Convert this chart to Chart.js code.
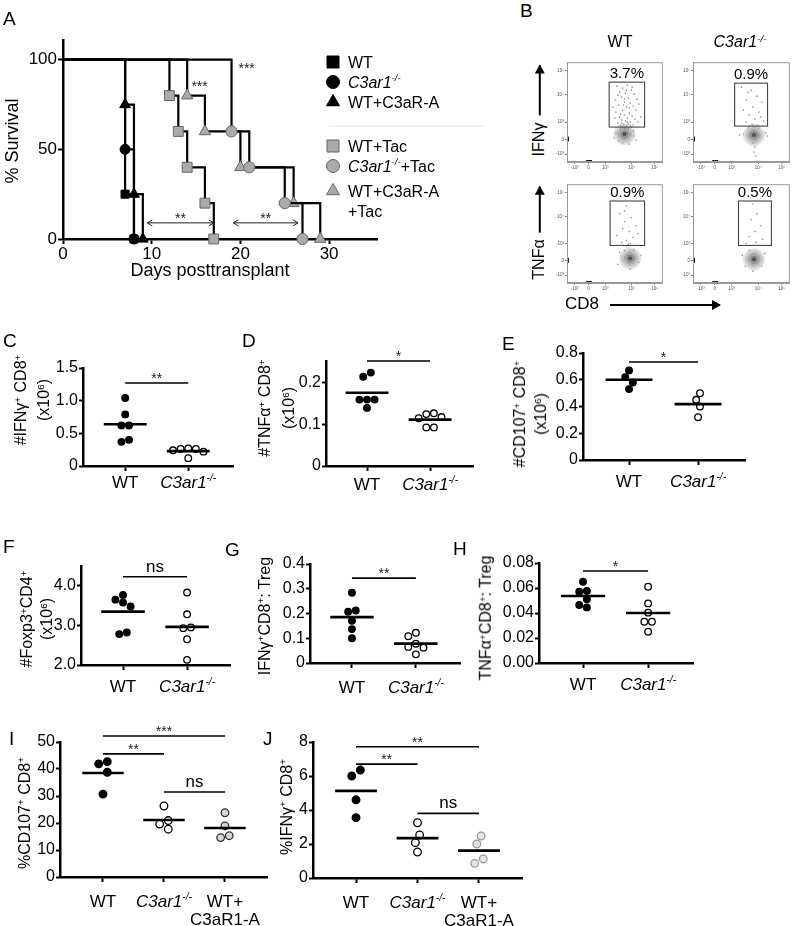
<!DOCTYPE html>
<html>
<head>
<meta charset="utf-8">
<script src="https://cdn.jsdelivr.net/npm/chart.js@4.4.0/dist/chart.umd.min.js"></script>
<style>
body { margin: 0; background: #fff; font-family: "Liberation Sans", Arial, sans-serif; }
#fig { position: relative; width: 800px; height: 926px; overflow: hidden; }
canvas { position: absolute; }
.t { position: absolute; white-space: nowrap; line-height: 1.15; color: #000; }
.r { transform: translate(-50%, -50%) rotate(-90deg); text-align: center; }
sup { font-size: 0.62em; line-height: 0; vertical-align: 0.55em; }
.arr { display: inline-block; position: relative; height: 1.6px; background: #000; vertical-align: middle; margin-left: 7px; }
.arr::after { content: ''; position: absolute; right: -1px; top: -4.2px; border-left: 9px solid #000; border-top: 5px solid transparent; border-bottom: 5px solid transparent; }
</style>
</head>
<body>
<div id="fig"></div>
<script>
/* ---- A: survival ---- */
const survLabels = ['WT', 'C3ar1-/-', 'WT+C3aR-A', 'WT+Tac', 'C3ar1-/-+Tac', 'WT+C3aR-A\n+Tac'];
const wtDays = [0, 7, 8];
const wtSurv = [100, 25, 0];
const koDays = [0, 7, 8];
const koSurv = [100, 50, 0];
const antDays = [0, 7, 8, 9];
const antSurv = [100, 75, 25, 0];
const wtTacDays = [0, 12, 13, 14, 16, 17];
const wtTacSurv = [100, 80, 60, 40, 20, 0];
const koTacDays = [0, 19, 21, 25, 27];
const koTacSurv = [100, 60, 40, 20, 0];
const antTacDays = [0, 14, 16, 20, 26, 29];
const antTacSurv = [100, 80, 60, 40, 20, 0];
const survXTicks = [0, 10, 20, 30];
const survYTicks = [0, 50, 100];
const survStars = [{x: 20.7, y: 92.6, t: '***'}, {x: 15.4, y: 82.5, t: '***'}];
const survArrows = [{a: 9.5, b: 17, y: 9, t: '**'}, {a: 19.2, b: 26.5, y: 9, t: '**'}];

/* ---- B: flow plots (display units 0-100) ---- */
const flowTicks = [8, 22.5, 40, 67.5, 91.5];
const flowTickLabels = ['-10³', '0', '10³', '10⁴', '10⁵'];
const gateWtIfn = [44, 35, 81, 80];
const gateKoIfn = [43, 36, 77, 79];
const gateWtTnf = [45, 38, 81, 83];
const gateKoTnf = [47, 38, 81, 83];
const pctWtIfn = '3.7%';
const pctKoIfn = '0.9%';
const pctWtTnf = '0.9%';
const pctKoTnf = '0.5%';
const coreWtIfn = [60, 28];
const coreKoIfn = [63, 27];
const coreWtTnf = [66, 25];
const coreKoTnf = [63, 24];
const edgeEvents = [[1, 21.5], [1, 23], [1, 24.5], [21, 1], [23, 1], [25, 1]];
const eventsWtIfn = [[52,76],[58,74],[63,77],[67,72],[55,70],[61,69],[70,68],[57,65],[64,64],[73,63],[50,62],[60,60],[66,59],[54,57],[69,56],[62,55],[58,52],[72,52],[51,50],[65,49],[60,47],[68,46],[55,45],[63,44],[71,43],[57,42],[61,41],[66,40],[53,39],[59,38],[64,38],[69,37],[56,36],[62,36],[67,35],[75,58],[48,55],[77,45],[53,67],[68,75],[62,72],[56,48],[74,40],[50,44],[59,57],[65,54],[60,63],[57,39],[63,40],[66,37],[60,34],[64,33],[56,33],[69,31],[51,29],[70,26],[49,24],[72,22],[58,19],[65,18],[54,21]];
const eventsKoIfn = [[50,75],[60,72],[66,66],[55,62],[71,60],[62,55],[52,52],[68,50],[58,47],[64,43],[73,41],[55,40],[61,38],[67,37],[57,70],[70,45],[52,28],[48,27],[75,29],[77,26],[64,15],[63,10],[65,6],[62,19],[57,34],[68,34]];
const eventsWtTnf = [[62,78],[55,70],[67,66],[60,62],[72,58],[58,55],[65,52],[52,48],[69,46],[62,43],[57,41],[66,40],[74,50],[60,73],[64,39],[55,31],[77,28],[53,19],[75,21],[66,14],[60,33],[70,33]];
const eventsKoTnf = [[62,80],[66,70],[60,64],[70,58],[64,52],[58,47],[72,44],[65,41],[55,40],[51,28],[74,30],[54,17],[71,17],[62,12],[58,33]];

/* ---- C-J: dot plots ---- */
const groups2 = ['WT', 'C3ar1-/-'];
const groups3 = ['WT', 'C3ar1-/-', 'WT+\nC3aR1-A'];
const cWT = [1.04, 0.79, 0.62, 0.62, 0.40, 0.37];
const cKO = [0.27, 0.26, 0.26, 0.24, 0.22, 0.12];
const dWT = [0.225, 0.215, 0.16, 0.16, 0.16, 0.14];
const dKO = [0.127, 0.125, 0.118, 0.115, 0.093, 0.093];
const eWT = [0.67, 0.62, 0.58, 0.53];
const eKO = [0.50, 0.45, 0.40, 0.32];
const fWT = [3.77, 3.65, 3.58, 3.48, 2.82, 2.78];
const fKO = [3.83, 3.28, 2.95, 2.93, 2.65, 2.13];
const gWT = [0.284, 0.212, 0.207, 0.171, 0.137, 0.10];
const gKO = [0.122, 0.108, 0.078, 0.065, 0.062, 0.035];
const hWT = [0.065, 0.0576, 0.057, 0.051, 0.0464, 0.0445];
const hKO = [0.061, 0.0477, 0.0403, 0.033, 0.033, 0.025];
const iWT = [42.7, 41.9, 38.8, 30.7];
const iKO = [26.3, 20.9, 19.6, 17.7];
const iAnt = [23.8, 18.9, 15.3, 14.6];
const jWT = [6.35, 6.0, 4.6, 3.55];
const jKO = [3.25, 2.53, 2.08, 1.53];
const jAnt = [2.47, 2.0, 1.12, 0.86];

const cTicks = [0, 0.5, 1.0, 1.5], cTickLabels = ['0', '0.5', '1.0', '1.5'];
const dTicks = [0, 0.1, 0.2], dTickLabels = ['0', '0.1', '0.2'];
const eTicks = [0, 0.2, 0.4, 0.6, 0.8], eTickLabels = ['0', '0.2', '0.4', '0.6', '0.8'];
const fTicks = [2, 3, 4], fTickLabels = ['2.0', '3.0', '4.0'];
const gTicks = [0, 0.1, 0.2, 0.3, 0.4], gTickLabels = ['0', '0.1', '0.2', '0.3', '0.4'];
const hTicks = [0, 0.02, 0.04, 0.06, 0.08], hTickLabels = ['0.00', '0.02', '0.04', '0.06', '0.08'];
const iTicks = [0, 10, 20, 30, 40, 50], iTickLabels = ['0', '10', '20', '30', '40', '50'];
const jTicks = [0, 2, 4, 6, 8], jTickLabels = ['0', '2', '4', '6', '8'];

const sigC = [{a: 1, b: 2, y: 1.27, t: '**'}];
const sigD = [{a: 1, b: 2, y: 0.253, t: '*'}];
const sigE = [{a: 1, b: 2, y: 0.733, t: '*'}];
const sigF = [{a: 1, b: 2, y: 4.23, t: 'ns'}];
const sigG = [{a: 1, b: 2, y: 0.343, t: '**'}];
const sigH = [{a: 1, b: 2, y: 0.0736, t: '*'}];
const sigI = [{a: 1, b: 3, y: 52.2, t: '***'}, {a: 1, b: 2, y: 45.6, t: '**'}, {a: 2, b: 3, y: 31.5, t: 'ns'}];
const sigJ = [{a: 1, b: 3, y: 7.72, t: '**'}, {a: 1, b: 2, y: 6.7, t: '**'}, {a: 2, b: 3, y: 3.8, t: 'ns'}];

/* ---- styles ---- */
const FONT = '"Liberation Sans", Arial, sans-serif';
Chart.defaults.font.family = FONT;
Chart.defaults.color = '#000';
const HALF = 0.34;
const survStyles = [
    {ps: 'rect', r: 5.7, fill: '#000', edge: '#000', lr: 8.5},
    {ps: 'circle', r: 5, fill: '#000', edge: '#000', lr: 6.5},
    {ps: 'triangle', r: 6.2, fill: '#000', edge: '#000', lr: 7.5},
    {ps: 'rect', r: 7, fill: '#aaa', edge: '#666', lr: 8.5},
    {ps: 'circle', r: 5.6, fill: '#aaa', edge: '#666', lr: 6.5},
    {ps: 'triangle', r: 6.6, fill: '#aaa', edge: '#666', lr: 7.5}
];
const contourLevels = [
    {r: 10.5, c: '#d0d0d0'}, {r: 9, c: '#bdbdbd'}, {r: 7.5, c: '#a6a6a6'}, {r: 6, c: '#909090'},
    {r: 4.6, c: '#7a7a7a'}, {r: 3.2, c: '#606060'}, {r: 1.8, c: '#444'}
];

const fig = document.getElementById('fig');
const extras = {};
const mean = a => a.reduce((s, v) => s + v, 0) / a.length;

/* Texto HTML por linea base */
function txt(html, x, base, size, align) {
    const d = document.createElement('div');
    d.className = 't';
    d.innerHTML = html;
    d.style.fontSize = size + 'px';
    d.style.top = (base - 0.92 * size) + 'px';
    d.style.left = x + 'px';
    if (align === 'center') d.style.transform = 'translateX(-50%)';
    fig.appendChild(d);
}
function vtxt(html, cx, cy, size, lh) {
    const d = document.createElement('div');
    d.className = 't r';
    d.innerHTML = html;
    d.style.fontSize = size + 'px';
    d.style.lineHeight = (lh || size * 1.15) + 'px';
    d.style.left = cx + 'px';
    d.style.top = cy + 'px';
    fig.appendChild(d);
}

function parseLabel(s) {
    const m = s.match(/^(.*?)C3ar1-\/-(.*)$/);
    if (!m) return [{t: s}];
    return [{t: m[1]}, {t: 'C3ar1', i: 1}, {t: '-/-', i: 1, s: 1}, {t: m[2]}].filter(p => p.t);
}
function richText(ctx, segs, x, y, size, align) {
    const parts = segs.map(p => {
        const fs = p.s ? size * 0.6 : size;
        const font = (p.i ? 'italic ' : '') + fs + 'px ' + FONT;
        ctx.font = font;
        return {t: p.t, font, w: ctx.measureText(p.t).width, dy: p.s ? -size * 0.42 : 0};
    });
    const tw = parts.reduce((a, p) => a + p.w, 0);
    let cx = align === 'center' ? x - tw / 2 : x;
    ctx.textAlign = 'left';
    ctx.textBaseline = 'alphabetic';
    ctx.fillStyle = '#000';
    parts.forEach(p => { ctx.font = p.font; ctx.fillText(p.t, cx, y + p.dy); cx += p.w; });
}

/* Reparte puntos que se tocan (tipo enjambre) */
const swarm = {
    id: 'swarm',
    afterDatasetsUpdate(chart) {
        chart.data.datasets.forEach((ds, i) => {
            if (!ds.swarm) return;
            const s = ds.swarm, h = s / 2;
            const pts = chart.getDatasetMeta(i).data.slice().sort((a, b) => a.y - b.y);
            if (!pts.length) return;
            const base = pts[0].x;
            const placed = [];
            pts.forEach(p => {
                for (let k = 0; k < 30; k++) {
                    const off = k === 0 ? 0 : (k % 2 ? -1 : 1) * Math.ceil(k / 2) * h;
                    if (placed.every(q => Math.hypot(q.off - off, q.p.y - p.y) >= s * 0.95)) {
                        placed.push({p, off});
                        break;
                    }
                }
            });
            let cl = [];
            const flush = () => {
                const lo = Math.min(...cl.map(q => q.off)), hi = Math.max(...cl.map(q => q.off));
                cl.forEach(q => { q.p.x = base + q.off - (lo + hi) / 2; });
                cl = [];
            };
            placed.forEach(q => {
                if (cl.length && q.p.y - cl[cl.length - 1].p.y >= s) flush();
                cl.push(q);
            });
            flush();
        });
    }
};

/* Decoraciones: corchetes, etiquetas, leyenda, compuertas */
const deco = {
    id: 'deco',
    afterDraw(chart) {
        const ex = extras[chart.canvas.id];
        if (!ex) return;
        const ctx = chart.ctx, xs = chart.scales.x, ys = chart.scales.y, ca = chart.chartArea;
        ctx.save();
        if (ex.frame) {
            ctx.strokeStyle = '#999';
            ctx.lineWidth = 1;
            ctx.strokeRect(ca.left + 0.5, ca.top + 0.5, ca.width - 1, ca.height - 1);
        }
        if (ex.gate) {
            const g = ex.gate;
            const x1 = xs.getPixelForValue(g[0]), x2 = xs.getPixelForValue(g[2]);
            const y1 = ys.getPixelForValue(g[3]), y2 = ys.getPixelForValue(g[1]);
            ctx.strokeStyle = '#444';
            ctx.lineWidth = 1.1;
            ctx.strokeRect(x1, y1, x2 - x1, y2 - y1);
            ctx.fillStyle = '#000';
            ctx.font = '15px ' + FONT;
            ctx.textAlign = 'center';
            ctx.fillText(ex.pct, (x1 + x2) / 2, y1 - 4);
        }
        (ex.brackets || []).forEach(bk => {
            const x1 = xs.getPixelForValue(bk.a), x2 = xs.getPixelForValue(bk.b), y = ys.getPixelForValue(bk.y);
            ctx.strokeStyle = '#000';
            ctx.lineWidth = 1.6;
            ctx.beginPath(); ctx.moveTo(x1, y); ctx.lineTo(x2, y); ctx.stroke();
            const ns = bk.t === 'ns';
            ctx.font = (ns ? 17 : 14) + 'px ' + FONT;
            ctx.textAlign = 'center';
            ctx.fillStyle = ns ? '#000' : '#222';
            ctx.fillText(bk.t, (x1 + x2) / 2, y - (ns ? 5 : 0));
        });
        (ex.groups || []).forEach((g, i) => {
            const x = xs.getPixelForValue(i + 1);
            g.split('\n').forEach((line, k) => richText(ctx, parseLabel(line), x, ca.bottom + ex.gap + k * 18, 17, 'center'));
        });
        (ex.arrows || []).forEach(ar => {
            const x1 = xs.getPixelForValue(ar.a), x2 = xs.getPixelForValue(ar.b), y = ys.getPixelForValue(ar.y);
            ctx.strokeStyle = '#222';
            ctx.lineWidth = 1;
            ctx.beginPath();
            ctx.moveTo(x1, y); ctx.lineTo(x2, y);
            ctx.moveTo(x1 + 5, y - 3); ctx.lineTo(x1, y); ctx.lineTo(x1 + 5, y + 3);
            ctx.moveTo(x2 - 5, y - 3); ctx.lineTo(x2, y); ctx.lineTo(x2 - 5, y + 3);
            ctx.stroke();
            ctx.font = '14px ' + FONT;
            ctx.textAlign = 'center';
            ctx.fillStyle = '#222';
            ctx.fillText(ar.t, (x1 + x2) / 2, y);
        });
        (ex.stars || []).forEach(st => {
            ctx.font = '14px ' + FONT;
            ctx.textAlign = 'center';
            ctx.fillStyle = '#222';
            ctx.fillText(st.t, xs.getPixelForValue(st.x), ys.getPixelForValue(st.y));
        });
        if (ex.legend) {
            const L = ex.legend;
            ctx.translate(-ex.ox, -ex.oy);
            ctx.strokeStyle = '#e2e2e2';
            ctx.lineWidth = 1;
            ctx.beginPath(); ctx.moveTo(L.x - 4, L.sep); ctx.lineTo(L.x + 150, L.sep); ctx.stroke();
            chart.data.datasets.forEach((ds, k) => {
                const st = survStyles[k], y = L.rows[k];
                ctx.fillStyle = st.fill;
                ctx.strokeStyle = st.edge;
                ctx.lineWidth = 1;
                Chart.helpers.drawPoint(ctx, {pointStyle: st.ps, radius: st.lr, borderWidth: 1, rotation: 0}, L.x, y);
                ds.label.split('\n').forEach((line, j) => richText(ctx, parseLabel(line), L.tx, y + 6 + j * 20, 16, 'left'));
            });
        }
        ctx.restore();
    }
};

function makeChart(id, box, yw, xh, pad, config, ex) {
    const [l, t, r, b] = box;
    const cv = document.createElement('canvas');
    cv.id = id;
    const left = l - yw - pad[0], top = t - pad[1];
    const w = (r - l) + yw + pad[0] + pad[2], h = (b - t) + xh + pad[1] + pad[3];
    cv.width = w; cv.height = h;
    cv.style.left = left + 'px'; cv.style.top = top + 'px';
    cv.style.width = w + 'px'; cv.style.height = h + 'px';
    fig.appendChild(cv);
    extras[id] = Object.assign({ox: left, oy: top}, ex || {});
    const o = config.options;
    o.responsive = false;
    o.animation = false;
    o.events = [];
    o.layout = {padding: {left: pad[0], top: pad[1], right: pad[2], bottom: pad[3]}};
    o.scales.x.afterFit = s => { s.height = xh; };
    o.scales.y.afterFit = s => { s.width = yw; };
    o.plugins = {legend: {display: false}, tooltip: {enabled: false}};
    config.plugins = [swarm, deco];
    return new Chart(cv, config);
}

function axis(min, max, ticks, labels, size, tl, tickOn, pad) {
    return {
        type: 'linear', min, max,
        afterBuildTicks: s => { s.ticks = ticks.map(v => ({value: v})); },
        ticks: {display: tickOn, callback: (v, i) => labels[i], font: {size}, color: '#000', padding: pad, maxRotation: 0, autoSkip: false},
        grid: {drawOnChartArea: false, drawTicks: true, tickLength: tl, tickWidth: 2, tickColor: '#000'},
        border: {color: '#000', width: 2.5}
    };
}

/* ---- Grafica A ---- */
const survDays = [wtDays, koDays, antDays, wtTacDays, koTacDays, antTacDays];
const survPct = [wtSurv, koSurv, antSurv, wtTacSurv, koTacSurv, antTacSurv];
makeChart('chartA', [63, 40, 377, 239], 45, 30, [5, 15, 110, 5], {
    type: 'line',
    data: {
        datasets: survDays.map((days, k) => ({
            label: survLabels[k],
            data: days.map((d, j) => ({x: d, y: survPct[k][j]})),
            stepped: true,
            borderColor: '#000',
            borderWidth: 2.2,
            pointStyle: survStyles[k].ps,
            pointRadius: days.map((d, j) => j ? survStyles[k].r : 0),
            pointBackgroundColor: survStyles[k].fill,
            pointBorderColor: survStyles[k].edge,
            pointBorderWidth: 1,
            fill: false,
            clip: false
        }))
    },
    options: {
        scales: {
            x: axis(0, 35.4, survXTicks, survXTicks.map(String), 17, 5, true, 0),
            y: axis(0, 111, survYTicks, survYTicks.map(String), 17, 5, true, 1)
        }
    }
}, {arrows: survArrows, stars: survStars,
    legend: {x: 333, tx: 348, rows: [62, 82, 102, 146, 166, 191], sep: 126}});

/* ---- Graficas B ---- */
function flowPlot(id, box, events, core, gate, pct) {
    const flowAxis = () => {
        const a = axis(0, 100, flowTicks, flowTickLabels, 4.5, 2, true, 1);
        a.grid.tickWidth = 0.8; a.grid.tickColor = '#666';
        a.border = {color: '#999', width: 1};
        a.ticks.color = '#555';
        return a;
    };
    const datasets = [{
        data: edgeEvents.map(p => ({x: p[0], y: p[1]})),
        pointStyle: 'rect', pointRadius: 1.4, backgroundColor: '#111', borderWidth: 0, clip: false
    }];
    contourLevels.slice().reverse().forEach((lv, k) => {
        datasets.push({
            data: [{x: core[0], y: core[1]}],
            pointRadius: lv.r,
            pointBackgroundColor: k === 0 ? '#555' : 'rgba(0,0,0,0.06)',
            pointBorderColor: lv.c,
            pointBorderWidth: 0.7
        });
    });
    datasets.push({
        data: events.map(p => ({x: p[0], y: p[1]})),
        pointRadius: 0.8, backgroundColor: '#8a8a8a', borderWidth: 0
    });
    makeChart(id, box, 14, 10, [3, 3, 3, 3], {
        type: 'scatter',
        data: {datasets},
        options: {scales: {x: flowAxis(), y: flowAxis()}}
    }, {frame: true, gate, pct});
}
flowPlot('flowTL', [567, 54, 671, 162], eventsWtIfn, coreWtIfn, gateWtIfn, pctWtIfn);
flowPlot('flowTR', [693, 54, 798, 162], eventsKoIfn, coreKoIfn, gateKoIfn, pctKoIfn);
flowPlot('flowBL', [567, 176, 671, 283], eventsWtTnf, coreWtTnf, gateWtTnf, pctWtTnf);
flowPlot('flowBR', [693, 176, 798, 283], eventsKoTnf, coreKoTnf, gateKoTnf, pctKoTnf);

/* ---- Graficas C-J ---- */
const openStyle = ['#fff', '#000'];
const fullStyle = ['#000', '#000'];
function dotPlot(id, box, groups, series, styles, yr, yTicks, yLabels, xr, sig, gap, big) {
    const datasets = [];
    series.forEach((vals, i) => {
        const m = mean(vals);
        datasets.push({type: 'line', data: [{x: i + 1 - HALF, y: m}, {x: i + 1 + HALF, y: m}],
            borderColor: '#000', borderWidth: 2.6, pointRadius: 0, clip: false});
    });
    series.forEach((vals, i) => {
        datasets.push({data: vals.map(v => ({x: i + 1, y: v})),
            pointRadius: big ? 3.8 : 3.3, pointBackgroundColor: styles[i][0], pointBorderColor: styles[i][1],
            pointBorderWidth: 1.3, swarm: big ? 8.6 : 7.6, clip: false});
    });
    makeChart(id, box, 45, 8, [5, 30, 10, 50], {
        type: 'scatter',
        data: {datasets},
        options: {
            scales: {
                x: axis(xr[0], xr[1], groups.map((g, i) => i + 1), groups, 17, 5, false, 0),
                y: axis(yr[0], yr[1], yTicks, yLabels, 16, 4, true, 1)
            }
        }
    }, {groups, brackets: sig, gap});
}
dotPlot('chartC', [83, 368, 233, 466], groups2, [cWT, cKO], [fullStyle, openStyle], [0, 1.5], cTicks, cTickLabels, [0.33, 2.71], sigC, 22);
dotPlot('chartD', [326, 361, 473, 466], groups2, [dWT, dKO], [fullStyle, openStyle], [0, 0.253], dTicks, dTickLabels, [0.35, 2.68], sigD, 24);
dotPlot('chartE', [583, 353, 745, 460], groups2, [eWT, eKO], [fullStyle, openStyle], [0, 0.8], eTicks, eTickLabels, [0.333, 2.68], sigE, 27);
dotPlot('chartF', [81, 566, 230, 665], groups2, [fWT, fKO], [fullStyle, openStyle], [2, 4.5], fTicks, fTickLabels, [0.344, 2.67], sigF, 27);
dotPlot('chartG', [310, 564, 460, 663], groups2, [gWT, gKO], [fullStyle, openStyle], [0, 0.4], gTicks, gTickLabels, [0.344, 2.69], sigG, 30);
dotPlot('chartH', [539, 563, 693, 663], groups2, [hWT, hKO], [fullStyle, openStyle], [0, 0.08], hTicks, hTickLabels, [0.323, 2.69], sigH, 27);
dotPlot('chartI', [60, 742, 267, 877], groups3, [iWT, iKO, iAnt], [fullStyle, openStyle, ['#d4d4d4', '#333']], [0, 50], iTicks, iTickLabels, [0.295, 3.69], sigI, 30, true);
dotPlot('chartJ', [313, 742, 522, 878], groups3, [jWT, jKO, jAnt], [fullStyle, openStyle, ['#e4e4e4', '#999']], [0, 8], jTicks, jTickLabels, [0.30, 3.70], sigJ, 30, true);

/* ---- Textos ---- */
[['A', 3, 25], ['B', 520, 17], ['C', 3, 347], ['D', 242, 347], ['E', 502, 350], ['F', 3, 553],
 ['G', 225, 556], ['H', 453, 555], ['I', 9, 745], ['J', 263, 745]].forEach(p => txt(p[0], p[1], p[2], 19));
txt('WT', 620, 48, 16, 'center');
txt('<i>C3ar1<sup>-/-</sup></i>', 740, 48, 16, 'center');
txt('Days posttransplant', 210, 277, 18, 'center');
vtxt('% Survival', 12, 141, 18);
vtxt('<span style="color:#000">IFNγ</span><span class="arr" style="width:50px"></span>', 539, 111, 16);
vtxt('TNFα<span class="arr" style="width:46px"></span>', 539, 233, 16);
txt('CD8<span class="arr" style="width:110px;margin-left:11px"></span>', 565, 310, 17);
vtxt('#IFNγ<sup>+</sup> CD8<sup>+</sup><br>(x10<sup>6</sup>)', 31.5, 400, 16, 23);
vtxt('#TNFα<sup>+</sup> CD8<sup>+</sup><br>(x10<sup>6</sup>)', 277, 408, 16, 24);
vtxt('#CD107<sup>+</sup> CD8<sup>+</sup><br>(x10<sup>6</sup>)', 530, 414, 16, 21);
vtxt('#Foxp3<sup>+</sup>CD4<sup>+</sup><br>(x10<sup>6</sup>)', 37, 619, 16, 20);
vtxt('IFNγ<sup>+</sup>CD8<sup>+</sup>: Treg', 265, 616, 16);
vtxt('TNFα<sup>+</sup>CD8<sup>+</sup>: Treg', 486, 618, 16);
vtxt('%CD107<sup>+</sup> CD8<sup>+</sup>', 25, 813, 16);
vtxt('%IFNγ<sup>+</sup> CD8<sup>+</sup>', 287, 807, 16);
</script>
</body>
</html>
